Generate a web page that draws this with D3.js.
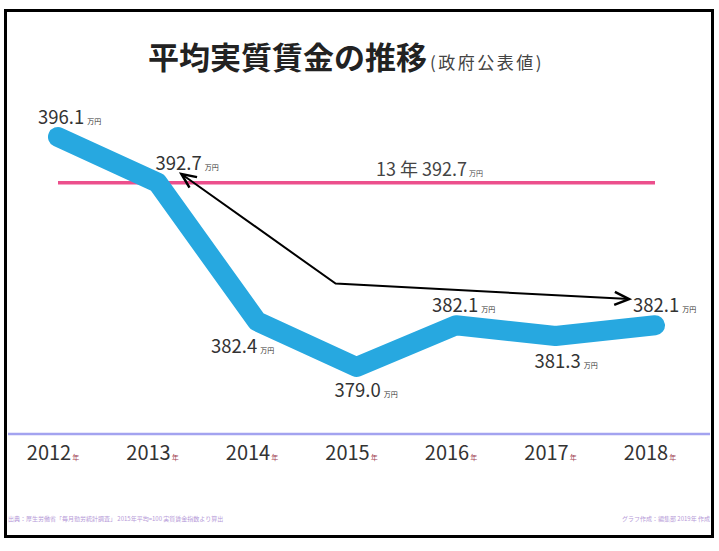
<!DOCTYPE html>
<html><head><meta charset="utf-8">
<script src="https://cdn.jsdelivr.net/npm/d3@7"></script>
<style>body{margin:0;background:#fff}svg{display:block}text{font-family:"Noto Sans CJK JP","Noto Sans",sans-serif}</style>
</head><body>
<script>
const years = ["2012","2013","2014","2015","2016","2017","2018"];
const wages = [396.1, 392.7, 382.4, 379.0, 382.1, 381.3, 382.1];
const labelPos = ["above","above","below","below","above","below","above"];
const refValue = 392.7;
const refLabel = "13 年 392.7";
const unit = "万円";
const yearUnit = "年";
// annotation arrow in data space: [index position, value]
const arrowPath = [[1.24, 393.35], [2.79, 385.2], [5.74, 384.05]];
const title = "平均実質賃金の推移";
const subtitle = "(政府公表値)";
const noteLeft = "出典：厚生労働省「毎月勤労統計調査」 2015年平均=100 実質賃金指数より算出";
const noteRight = "グラフ作成：編集部 2019年 作成";

const W = 719, H = 551;
const svg = d3.select("body").append("svg").attr("width", W).attr("height", H);

const x = d3.scalePoint().domain(years).range([58, 655]);
const xi = d3.scaleLinear().domain([0, years.length - 1]).range([58, 655]);
const y = d3.scaleLinear().domain([375, 400]).range([420.8, 84.5]);

// frame
svg.append("rect").attr("x", 5.5).attr("y", 10.5).attr("width", 707).attr("height", 526)
  .attr("fill", "none").attr("stroke", "#000").attr("stroke-width", 3);

// title
const t = svg.append("text").attr("x", 148).attr("y", 69);
t.append("tspan").text(title).attr("font-size", 31).attr("font-weight", "bold").attr("fill", "#222");
t.append("tspan").text(subtitle).attr("font-size", 17).attr("fill", "#444").attr("dx", 3).attr("letter-spacing", 2.5);

// x axis line
svg.append("line").attr("x1", 8).attr("x2", 710).attr("y1", 434).attr("y2", 434)
  .attr("stroke", "#a3a3f0").attr("stroke-width", 2.5);

// year labels
years.forEach(yr => {
  const tx = svg.append("text").attr("x", x(yr) - 5).attr("y", 460).attr("text-anchor", "middle").attr("fill", "#333");
  tx.append("tspan").text(yr).attr("font-size", 20);
  tx.append("tspan").text(yearUnit).attr("font-size", 7).attr("fill", "#a04050").attr("dx", 1);
});

// reference line
svg.append("line").attr("x1", x(years[0])).attr("x2", x(years[years.length-1]))
  .attr("y1", y(refValue)).attr("y2", y(refValue))
  .attr("stroke", "#ec4f8c").attr("stroke-width", 3.5);
const rl = svg.append("text").attr("x", 376).attr("y", y(refValue) - 7).attr("fill", "#444");
rl.append("tspan").text(refLabel).attr("font-size", 18);
rl.append("tspan").text(unit).attr("font-size", 7).attr("dx", 2);

// main line
svg.append("path").datum(wages.map((v, i) => [years[i], v]))
  .attr("fill", "none").attr("stroke", "#27a8e0").attr("stroke-width", 20)
  .attr("stroke-linecap", "round").attr("stroke-linejoin", "round")
  .attr("d", d3.line().x(d => x(d[0])).y(d => y(d[1])));

// value labels
const dxs = [-20, -2, -46, -22, -24, -21, -22];
wages.forEach((v, i) => {
  const above = labelPos[i] === "above";
  const px = x(years[i]), py = y(v);
  const tx = svg.append("text").attr("fill", "#333")
    .attr("x", px + dxs[i])
    .attr("y", above ? py - 13 : (i === 3 ? py + 30 : py + 32));
  tx.append("tspan").text(v.toFixed(1)).attr("font-size", 18.5);
  tx.append("tspan").text(unit).attr("font-size", 7).attr("dx", 3);
});

// annotation arrow
const ap = arrowPath.map(d => [xi(d[0]), y(d[1])]);
svg.append("path").attr("d", d3.line()(ap)).attr("fill", "none")
  .attr("stroke", "#000").attr("stroke-width", 2);
function head(tip, from) {
  const ang = Math.atan2(tip[1] - from[1], tip[0] - from[0]);
  const L = 16, a = 0.42;
  const p1 = [tip[0] - L * Math.cos(ang - a), tip[1] - L * Math.sin(ang - a)];
  const p2 = [tip[0] - L * Math.cos(ang + a), tip[1] - L * Math.sin(ang + a)];
  svg.append("path").attr("d", d3.line()([p1, tip, p2])).attr("fill", "none")
    .attr("stroke", "#000").attr("stroke-width", 2.5);
}
head(ap[0], ap[1]);
head(ap[2], ap[1]);

// footnotes
svg.append("text").attr("x", 8).attr("y", 521).attr("font-size", 6).attr("fill", "#b69ad8").text(noteLeft);
svg.append("text").attr("x", 710).attr("y", 521).attr("text-anchor", "end").attr("font-size", 6).attr("fill", "#b69ad8").text(noteRight);
</script>
</body></html>
